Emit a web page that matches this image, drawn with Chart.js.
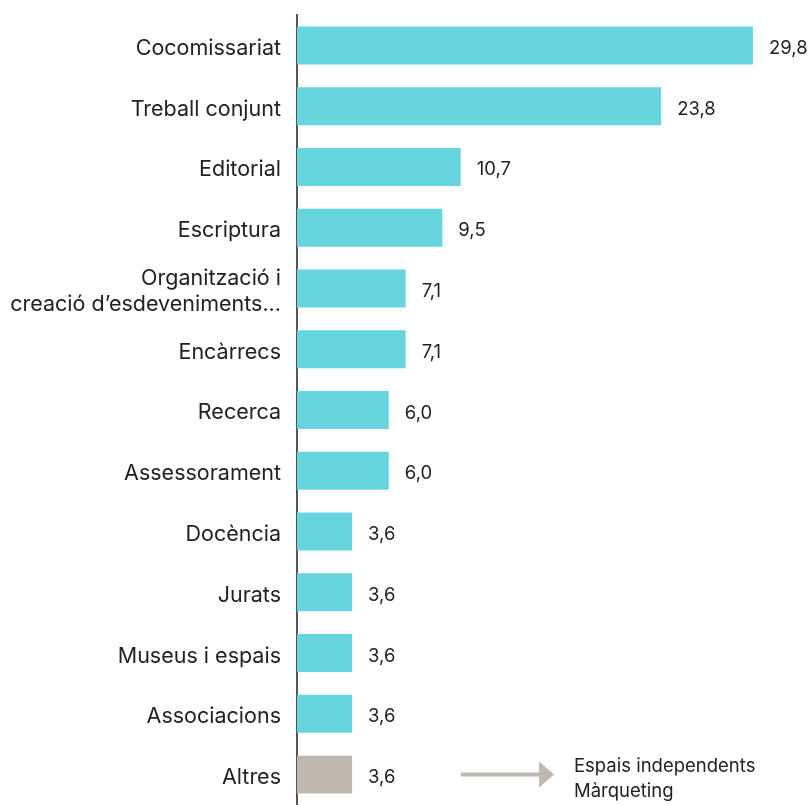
<!DOCTYPE html>
<html>
<head>
<meta charset="utf-8">
<script src="https://cdn.jsdelivr.net/npm/chart.js@4"></script>
<style>
  html, body { margin: 0; padding: 0; background: #fff; }
  #wrap { width: 808px; height: 805px; }
</style>
</head>
<body>
<div id="wrap"><canvas id="barChart" width="808" height="805"></canvas></div>
<script>
// categories and values (percent)
const categories = [
    'Cocomissariat',
    'Treball conjunt',
    'Editorial',
    'Escriptura',
    ['Organització i', 'creació d’esdeveniments...'],
    'Encàrrecs',
    'Recerca',
    'Assessorament',
    'Docència',
    'Jurats',
    'Museus i espais',
    'Associacions',
    'Altres'
];
const values = [29.8, 23.8, 10.7, 9.5, 7.1, 7.1, 6.0, 6.0, 3.6, 3.6, 3.6, 3.6, 3.6];
const barColors = values.map((_, i) => i === values.length - 1 ? '#beb8ae' : '#66d5de');
const altresNote = ['Espais independents', 'Màrqueting'];

const fontFamily = 'Inter, "Noto Sans", sans-serif';

// value labels on the right of each bar
const valueLabels = {
    id: 'valueLabels',
    afterDatasetsDraw(chart) {
        const ctx = chart.ctx;
        const meta = chart.getDatasetMeta(0);
        ctx.save();
        ctx.fillStyle = '#222';
        ctx.font = '18.5px ' + fontFamily;
        ctx.textAlign = 'left';
        ctx.textBaseline = 'middle';
        meta.data.forEach((bar, i) => {
            const txt = values[i].toFixed(1).replace('.', ',');
            ctx.fillText(txt, bar.x + 16, bar.y + 3);
        });
        ctx.restore();
    }
};

// arrow + note next to "Altres"
const altresArrow = {
    id: 'altresArrow',
    afterDraw(chart) {
        const ctx = chart.ctx;
        const xs = chart.scales.x;
        const meta = chart.getDatasetMeta(0);
        const bar = meta.data[meta.data.length - 1];
        const y = bar.y;
        const x0 = xs.getPixelForValue(10.7);
        const x1 = xs.getPixelForValue(16.8);
        ctx.save();
        ctx.strokeStyle = '#beb8ae';
        ctx.fillStyle = '#beb8ae';
        ctx.lineWidth = 4;
        ctx.beginPath();
        ctx.moveTo(x0, y);
        ctx.lineTo(x1 - 12, y);
        ctx.stroke();
        ctx.beginPath();
        ctx.moveTo(x1 - 15, y - 13);
        ctx.lineTo(x1, y);
        ctx.lineTo(x1 - 15, y + 13);
        ctx.closePath();
        ctx.fill();
        ctx.fillStyle = '#222';
        ctx.font = '18.5px ' + fontFamily;
        ctx.textBaseline = 'middle';
        const tx = xs.getPixelForValue(18.1);
        ctx.fillText(altresNote[0], tx, y - 8);
        ctx.fillText(altresNote[1], tx, y + 17);
        ctx.restore();
    }
};

const ctx = document.getElementById('barChart').getContext('2d');
const chart = new Chart(ctx, {
    type: 'bar',
    data: {
        labels: categories,
        datasets: [{
            data: values,
            backgroundColor: barColors,
            borderWidth: 0,
            categoryPercentage: 1,
            barPercentage: 0.625
        }]
    },
    options: {
        indexAxis: 'y',
        responsive: false,
        animation: false,
        layout: { padding: { top: 15, right: 52, bottom: 0, left: 0 } },
        plugins: {
            legend: { display: false },
            tooltip: { enabled: false }
        },
        scales: {
            x: {
                display: false,
                min: 0,
                max: 30
            },
            y: {
                afterFit: (scale) => {
                    scale.width = 297;
                    scale.paddingTop = 0;
                    scale.paddingBottom = 0;
                },
                grid: { display: false, drawTicks: false },
                border: { display: true, color: '#555', width: 2 },
                ticks: {
                    color: '#222',
                    padding: 16,
                    labelOffset: 3,
                    font: { family: fontFamily, size: 21.5, lineHeight: 1.22 }
                }
            }
        }
    },
    plugins: [valueLabels, altresArrow]
});
</script>
</body>
</html>
